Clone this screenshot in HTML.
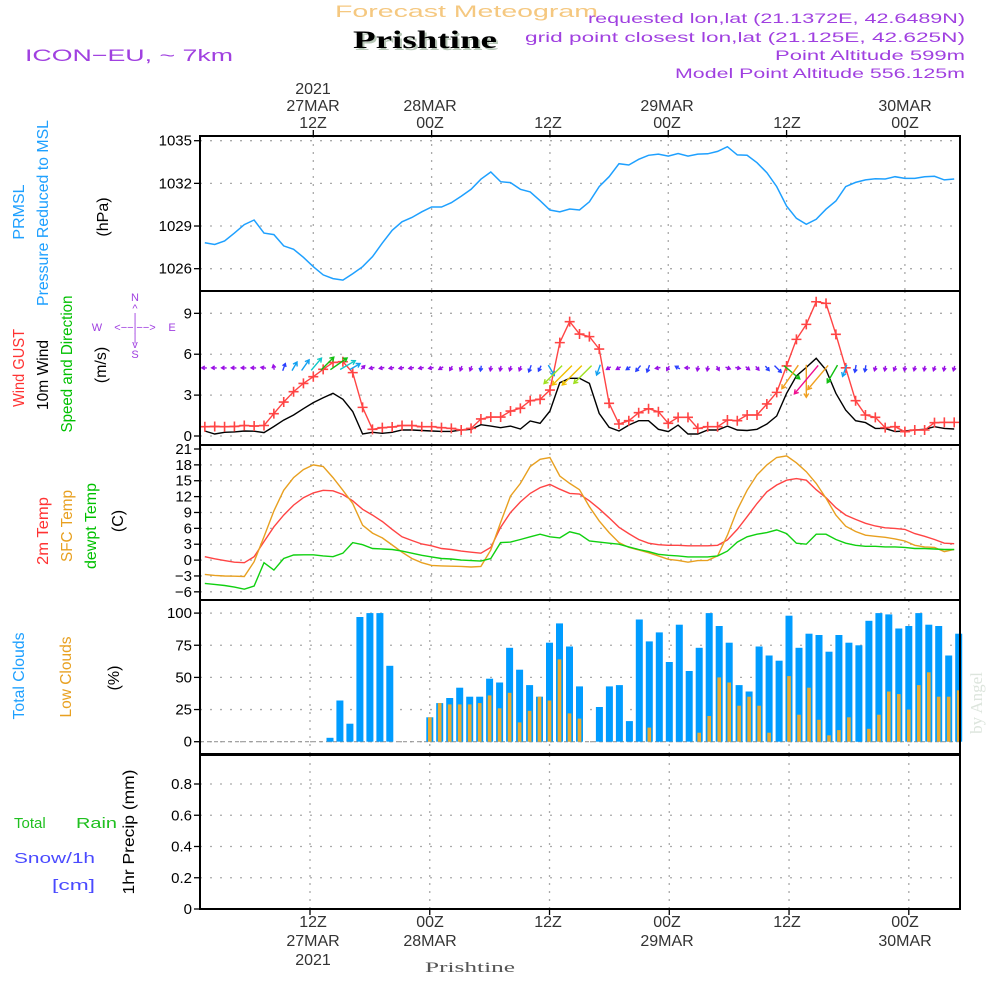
<!DOCTYPE html>
<html><head><meta charset="utf-8"><title>Forecast Meteogram Prishtine</title>
<style>
html,body{margin:0;padding:0;background:#fff;}
svg{display:block;font-family:"Liberation Sans",sans-serif;}
</style></head>
<body>
<svg id="chart" width="1000" height="1000" viewBox="0 0 1000 1000">
<rect x="0" y="0" width="1000" height="1000" fill="#fff"/>
<text x="335" y="17" font-size="17" fill="#f5c880" textLength="263" lengthAdjust="spacingAndGlyphs">Forecast Meteogram</text>
<text x="355" y="50" font-family="Liberation Serif" font-weight="bold" font-size="25" fill="#b8c8b8" textLength="144" lengthAdjust="spacingAndGlyphs">Prishtine</text>
<text x="353" y="48" font-family="Liberation Serif" font-weight="bold" font-size="25" fill="#000" textLength="144" lengthAdjust="spacingAndGlyphs">Prishtine</text>
<text x="25" y="61" font-size="17" fill="#a040e0" textLength="208" lengthAdjust="spacingAndGlyphs">ICON−EU, ~ 7km</text>
<g font-size="14" fill="#a040e0" text-anchor="end">
<text x="965" y="23" textLength="377" lengthAdjust="spacingAndGlyphs">requested lon,lat (21.1372E, 42.6489N)</text>
<text x="965" y="42" textLength="440" lengthAdjust="spacingAndGlyphs">grid point closest lon,lat (21.125E, 42.625N)</text>
<text x="965" y="60" textLength="190" lengthAdjust="spacingAndGlyphs">Point Altitude 599m</text>
<text x="965" y="78" textLength="290" lengthAdjust="spacingAndGlyphs">Model Point Altitude 556.125m</text>
</g>
<g font-size="16" fill="#333" text-anchor="middle">
<text x="313" y="94">2021</text>
<text x="313" y="111">27MAR</text>
<text x="313" y="128">12Z</text>
<text x="430" y="111">28MAR</text>
<text x="430" y="128">00Z</text>
<text x="548" y="128">12Z</text>
<text x="667" y="111">29MAR</text>
<text x="667" y="128">00Z</text>
<text x="787" y="128">12Z</text>
<text x="905" y="111">30MAR</text>
<text x="905" y="128">00Z</text>
</g>
<g font-size="16" fill="#333" text-anchor="middle">
<text x="313" y="927">12Z</text>
<text x="313" y="946">27MAR</text>
<text x="313" y="965">2021</text>
<text x="430" y="927">00Z</text>
<text x="430" y="946">28MAR</text>
<text x="548" y="927">12Z</text>
<text x="667" y="927">00Z</text>
<text x="667" y="946">29MAR</text>
<text x="787" y="927">12Z</text>
<text x="905" y="927">00Z</text>
<text x="905" y="946">30MAR</text>
</g>
<text x="425" y="972" font-family="Liberation Serif" font-size="15" fill="#555" textLength="90" lengthAdjust="spacingAndGlyphs">Prishtine</text>
<g font-size="16" text-anchor="middle">
<text transform="translate(24,212) rotate(-90)" fill="#1ea0ff">PRMSL</text>
<text transform="translate(48,213) rotate(-90)" fill="#1ea0ff" textLength="186" lengthAdjust="spacingAndGlyphs">Pressure Reduced to MSL</text>
<text transform="translate(108,217) rotate(-90)" fill="#000">(hPa)</text>
<text transform="translate(24,368) rotate(-90)" fill="#ff3333" textLength="78" lengthAdjust="spacingAndGlyphs">Wind GUST</text>
<text transform="translate(48,375) rotate(-90)" fill="#000" textLength="70" lengthAdjust="spacingAndGlyphs">10m Wind</text>
<text transform="translate(72,364) rotate(-90)" fill="#00c000" textLength="137" lengthAdjust="spacingAndGlyphs">Speed and Direction</text>
<text transform="translate(106,365) rotate(-90)" fill="#000">(m/s)</text>
<text transform="translate(48,531) rotate(-90)" fill="#ff3333" textLength="68" lengthAdjust="spacingAndGlyphs">2m Temp</text>
<text transform="translate(72,526) rotate(-90)" fill="#e8a020" textLength="72" lengthAdjust="spacingAndGlyphs">SFC Temp</text>
<text transform="translate(96,526) rotate(-90)" fill="#00c000" textLength="86" lengthAdjust="spacingAndGlyphs">dewpt Temp</text>
<text transform="translate(123,521) rotate(-90)" fill="#000">(C)</text>
<text transform="translate(24,676) rotate(-90)" fill="#1ea0ff" textLength="87" lengthAdjust="spacingAndGlyphs">Total Clouds</text>
<text transform="translate(71,677) rotate(-90)" fill="#e8a020" textLength="81" lengthAdjust="spacingAndGlyphs">Low Clouds</text>
<text transform="translate(119,678) rotate(-90)" fill="#000">(%)</text>
<text transform="translate(134,832) rotate(-90)" fill="#000" textLength="125" lengthAdjust="spacingAndGlyphs">1hr Precip (mm)</text>
</g>
<g font-size="15">
<text x="14" y="828" fill="#20c020">Total</text>
<text x="76" y="828" fill="#20c020" textLength="41" lengthAdjust="spacingAndGlyphs">Rain</text>
<text x="14" y="863" fill="#4a4aff" textLength="81" lengthAdjust="spacingAndGlyphs">Snow/1h</text>
<text x="52" y="890" fill="#4a4aff" textLength="43" lengthAdjust="spacingAndGlyphs">[cm]</text>
</g>
<g font-size="11" fill="#a040e0" text-anchor="middle">
<text x="135" y="301">N</text>
<text x="135" y="312">^</text>
<text x="135" y="321">|</text>
<text x="97" y="331">W</text>
<text x="135" y="331">&lt;−−|−−&gt;</text>
<text x="172" y="331">E</text>
<text x="135" y="341">|</text>
<text x="135" y="348">v</text>
<text x="135" y="358">S</text>
</g>
<text transform="translate(982,703) rotate(-90)" font-family="Liberation Serif" font-size="17" fill="#dde5dd" text-anchor="middle">by Angel</text>
<g id="plot"></g>
</svg>
<script>
const pressHours = [1,2,3,4,5,6,7,8,9,10,11,12,13,14,15,16,17,18,19,20,21,22,23,24,25,26,27,28,29,30,31,32,33,34,35,36,37,38,39,40,41,42,43,44,45,46,47,48,49,50,51,52,53,54,55,56,57,58,59,60,61,62,63,64,65,66,67,68,69,70,71,72,73,74,75,76,77];
const pressure = [1027.83,1027.7,1027.95,1028.5,1029.1,1029.42,1028.5,1028.4,1027.6,1027.36,1026.8,1026.14,1025.56,1025.3,1025.2,1025.65,1026.14,1026.84,1027.8,1028.7,1029.3,1029.6,1030.0,1030.34,1030.34,1030.64,1031.1,1031.58,1032.29,1032.8,1032.12,1032.05,1031.58,1031.4,1030.78,1030.13,1029.99,1030.2,1030.13,1030.7,1031.77,1032.47,1033.38,1033.29,1033.69,1033.97,1034.06,1033.92,1034.1,1033.92,1034.06,1034.08,1034.25,1034.58,1034.0,1033.97,1033.45,1032.75,1031.77,1030.4,1029.54,1029.12,1029.47,1030.18,1030.76,1031.77,1032.07,1032.24,1032.33,1032.31,1032.47,1032.35,1032.35,1032.47,1032.5,1032.24,1032.31];
const windGust = [0.68,0.7,0.68,0.7,0.77,0.73,0.77,1.64,2.49,3.25,3.86,4.35,4.89,5.4,5.45,4.65,2.1,0.49,0.61,0.66,0.77,0.77,0.68,0.68,0.61,0.56,0.44,0.56,1.25,1.39,1.39,1.83,2.03,2.59,2.69,3.37,6.85,8.39,7.48,7.29,6.38,2.4,0.88,1.12,1.71,2.0,1.78,0.93,1.37,1.37,0.56,0.68,0.68,1.17,1.12,1.54,1.54,2.35,3.2,5.14,7.09,8.19,9.85,9.73,7.46,5.0,2.59,1.54,1.37,0.61,0.68,0.32,0.44,0.44,0.98,1.0,1.0];
const wind10m = [0.37,0.15,0.27,0.3,0.37,0.35,0.25,0.7,1.17,1.54,2.0,2.45,2.81,3.13,2.69,1.8,0.15,0.27,0.2,0.27,0.44,0.44,0.4,0.37,0.34,0.34,0.44,0.49,0.83,0.73,0.61,0.73,0.51,1.1,0.93,1.83,3.91,4.23,4.23,3.86,1.66,0.64,0.37,0.8,1.12,1.12,0.49,0.32,0.8,0.15,0.15,0.44,0.44,0.73,0.44,0.4,0.49,0.88,1.47,3.13,4.4,5.03,5.7,4.85,3.13,1.9,1.12,0.98,0.56,0.56,0.32,0.37,0.44,0.49,0.68,0.56,0.51];
const windDir = [270,270,270,270,270,270,280,350,20,30,35,40,45,55,60,60,45,260,260,260,260,260,260,260,240,210,200,200,190,190,190,195,200,200,205,150,225,225,225,225,200,240,240,235,220,200,260,210,300,270,190,190,150,110,100,130,140,140,135,130,215,180,220,220,210,200,190,190,195,190,200,190,195,190,200,190,195];
const temp2m = [0.64,0.25,-0.1,-0.4,-0.5,0.64,3.5,6.3,8.5,10.4,11.8,12.7,13.2,13.1,12.4,11.2,9.6,8.5,7.3,5.8,4.4,3.7,3.05,2.7,2.2,2.0,1.7,1.5,1.3,2.4,6.2,9.0,11.0,12.6,13.7,14.3,13.4,12.6,12.5,11.2,9.7,8.0,6.2,5.0,3.9,3.2,2.9,2.8,2.8,2.7,2.7,2.7,2.8,3.8,5.8,8.2,10.7,12.9,14.2,15.1,15.4,15.1,13.3,11.8,9.9,8.5,7.7,6.95,6.45,6.1,6.0,5.8,5.0,4.5,3.9,3.2,3.1];
const tempSfc = [-2.7,-2.9,-3.0,-3.05,-3.1,-0.3,4.4,9.3,13.2,15.6,17.1,18.0,17.7,15.6,13.2,10.7,6.6,5.1,4.2,2.85,1.5,0.3,-0.5,-1.0,-1.1,-1.15,-1.2,-1.3,-1.2,1.9,7.1,12.1,14.5,17.7,19.05,19.4,15.9,14.5,13.3,10.1,7.4,5.2,3.3,2.4,1.9,1.4,0.8,0.15,-0.05,-0.4,-0.1,-0.05,0.8,4.7,9.5,13.2,16.1,18.0,19.4,19.7,18.4,16.7,14.5,11.7,8.5,6.4,5.4,4.7,4.5,4.3,4.0,3.6,2.8,2.5,2.4,1.6,2.0];
const dewpoint = [-4.4,-4.6,-4.8,-5.1,-5.5,-4.9,-0.5,-1.9,0.3,0.96,1.0,1.0,0.8,0.64,1.3,3.3,2.9,2.2,2.1,2.0,1.7,1.3,0.9,0.6,0.3,0.2,0.0,-0.1,-0.2,0.3,3.3,3.4,3.9,4.4,4.9,4.4,4.2,5.35,4.9,3.6,3.4,3.2,3.0,2.5,2.0,1.6,1.1,0.9,0.8,0.6,0.6,0.6,0.8,1.7,3.4,4.4,4.9,5.2,5.7,5.0,3.2,3.0,4.9,4.9,3.9,3.2,2.8,2.6,2.6,2.5,2.5,2.4,2.2,2.2,2.1,2.0,2.0];
const cloudHours = [2,3,4,5,6,7,8,9,10,11,12,13,14,15,16,17,18,19,20,21,22,23,24,25,26,27,28,29,30,31,32,33,34,35,36,37,38,39,40,41,42,43,44,45,46,47,48,49,50,51,52,53,54,55,56,57,58,59,60,61,62,63,64,65,66,67,68,69,70,71,72,73,74,75,76,77];
const totalClouds = [0,0,0,0,0,0,0,0,0,0,0,0,3,32,14,97,100,100,59,0,0,0,19,30,34,42,35,35,49,46,73,56,44,35,77,92,74,43,0,27,43,44,16,95,78,85,62,91,55,73,100,90,77,44,39,74,67,63,98,73,84,83,70,83,77,75,94,100,99,88,90,100,91,90,67,84];
const lowClouds = [0,0,0,0,0,0,0,0,0,0,0,0,0,0,0,0,0,0,0,0,0,0,19,30,29,29,29,30,36,26,38,15,24,35,32,64,22,18,0,0,0,0,0,0,11,0,0,0,0,7,20,50,46,28,35,28,7,0,51,21,42,17,5,9,19,0,10,21,39,37,25,44,54,35,35,40];
const precip = [0,0,0,0,0,0,0,0,0,0,0,0,0,0,0,0,0,0,0,0,0,0,0,0,0,0,0,0,0,0,0,0,0,0,0,0,0,0,0,0,0,0,0,0,0,0,0,0,0,0,0,0,0,0,0,0,0,0,0,0,0,0,0,0,0,0,0,0,0,0,0,0,0,0,0,0,0];
const pressTicks = [1026,1029,1032,1035];
const windTicks = [0,3,6,9];
const tempTicks = [-6,-3,0,3,6,9,12,15,18,21];
const cloudTicks = [0,25,50,75,100];
const precipTicks = [0,0.2,0.4,0.6,0.8];
const gridHours = [12,24,36,48,60,72];

const X0 = 200, X1 = 960;
function xP(h){ return 313.3 + (h-12)*9.86; }
function xC(h){ return 310 + (h-12)*9.98; }
function yP(p){ return 140.7 + (1035-p)*14.22; }
function yW(v){ return 436 - v*13.63; }
function yT(t){ return 449 + (21-t)*5.29; }
function yC(c){ return 741.7 - c*1.286; }
function yR(r){ return 909 - r*156.25; }

const NS = 'http://www.w3.org/2000/svg';
const plot = document.getElementById('plot');
function mk(tag, attrs, parent){
  const e = document.createElementNS(NS, tag);
  for (const k in attrs) e.setAttribute(k, attrs[k]);
  (parent||plot).appendChild(e);
  return e;
}

const panels = [
  {top:136, bot:291, yf:yP, ticks:pressTicks, xf:xP, name:'pressure-panel'},
  {top:291, bot:445, yf:yW, ticks:windTicks, xf:xP, name:'wind-panel'},
  {top:445, bot:600, yf:yT, ticks:tempTicks, xf:xP, name:'temperature-panel'},
  {top:600, bot:754, yf:yC, ticks:cloudTicks, xf:xC, name:'cloud-panel'},
  {top:755, bot:909, yf:yR, ticks:precipTicks, xf:xC, name:'precip-panel'}
];
panels.forEach(function(p){
  const g = mk('g', {});
  
  
  p.ticks.forEach(function(t){
    const y = p.yf(t);
    const gl = mk('line', {x1:X0, x2:X1, y1:y, y2:y, stroke:'#aaa', 'stroke-width':1.3, 'stroke-dasharray':'2 8'}, g);
    
    
    const tk = mk('line', {x1:X0-6, x2:X0, y1:y, y2:y, stroke:'#000', 'stroke-width':1.3}, g);
    
    
    const lb = mk('text', {x:192, y:y+5, 'font-size':15, 'text-anchor':'end', fill:'#000'}, g);
    lb.textContent = String(t).replace('-', '−');
    
    
  });
  gridHours.forEach(function(h){
    const x = p.xf(h);
    const vl = mk('line', {x1:x, x2:x, y1:p.top, y2:p.bot, stroke:'#aaa', 'stroke-width':1.3, 'stroke-dasharray':'2 6'}, g);
    
    
  });
});

(function(){
  let d = '';
  pressHours.forEach(function(h,i){ d += (i?'L':'M') + xP(h).toFixed(1) + ' ' + yP(pressure[i]).toFixed(1); });
  const l = mk('path', {d:d, fill:'none', stroke:'#1ea0ff', 'stroke-width':1.5});
  
  
})();

(function(){
  let d = '';
  pressHours.forEach(function(h,i){ d += (i?'L':'M') + xP(h).toFixed(1) + ' ' + yW(wind10m[i]).toFixed(1); });
  const l = mk('path', {d:d, fill:'none', stroke:'#000', 'stroke-width':1.4});
  
  
})();

(function(){
  let d = '';
  pressHours.forEach(function(h,i){ d += (i?'L':'M') + xP(h).toFixed(1) + ' ' + yW(windGust[i]).toFixed(1); });
  const l = mk('path', {d:d, fill:'none', stroke:'#ff4444', 'stroke-width':1.4});
  
  
  pressHours.forEach(function(h,i){
    const x = xP(h), y = yW(windGust[i]);
    const m = mk('path', {d:'M'+(x-5)+' '+y+'L'+(x+5)+' '+y+'M'+x+' '+(y-5)+'L'+x+' '+(y+5), stroke:'#ff4444', 'stroke-width':1.6});
    
    
  });
})();

function speedColor(s){
  if (s < 0.8) return '#9a10e6';
  if (s < 1.5) return '#2a40ff';
  if (s < 2.2) return '#12a0f0';
  if (s < 2.8) return '#10c8c8';
  if (s < 3.5) return '#10c010';
  if (s < 3.95) return '#a0e020';
  if (s < 4.3) return '#f0c000';
  if (s < 5.3) return '#f0a020';
  return '#f01090';
}
pressHours.forEach(function(h,i){
  const s = wind10m[i];
  const L = Math.max(5, s*6.5);
  const a = windDir[i]*Math.PI/180;
  const x0 = xP(h) - Math.sin(a)*Math.min(L,8)*0.4, y0 = yW(5) + Math.cos(a)*Math.min(L,8)*0.4;
  const x1 = x0 + Math.sin(a)*L, y1 = y0 - Math.cos(a)*L;
  const hl = s < 1.5 ? 3.5 : 4.5, ha = 0.55;
  const bx = -Math.sin(a), by = Math.cos(a);
  const c = Math.cos(ha), sn = Math.sin(ha);
  const p1x = x1 + hl*(bx*c - by*sn), p1y = y1 + hl*(bx*sn + by*c);
  const p2x = x1 + hl*(bx*c + by*sn), p2y = y1 + hl*(-bx*sn + by*c);
  const d = 'M'+x0.toFixed(1)+' '+y0.toFixed(1)+'L'+x1.toFixed(1)+' '+y1.toFixed(1)+
            'M'+p1x.toFixed(1)+' '+p1y.toFixed(1)+'L'+x1.toFixed(1)+' '+y1.toFixed(1)+'L'+p2x.toFixed(1)+' '+p2y.toFixed(1);
  const ar = mk('path', {d:d, fill:'none', stroke:speedColor(s), 'stroke-width':1.4});
  
  
});

[[temp2m,'#ff4444','temp-2m-line'],[tempSfc,'#e8a020','sfc-temp-line'],[dewpoint,'#10d010','dewpoint-line']].forEach(function(s){
  let d = '';
  pressHours.forEach(function(h,i){ d += (i?'L':'M') + xP(h).toFixed(1) + ' ' + yT(s[0][i]).toFixed(1); });
  const l = mk('path', {d:d, fill:'none', stroke:s[1], 'stroke-width':1.4});
  
  
});

(function(){
  const base = mk('line', {x1:X0, x2:X1, y1:yC(0), y2:yC(0), stroke:'#999', 'stroke-width':1.2, 'stroke-dasharray':'4 3'});
  
  
  cloudHours.forEach(function(h,i){
    const x = xC(h);
    if (totalClouds[i] > 0){
      const b = mk('rect', {x:(x-3.5).toFixed(1), y:yC(totalClouds[i]).toFixed(1), width:7, height:(yC(0)-yC(totalClouds[i])).toFixed(1), fill:'#009cff'});
      
      
    }
    if (lowClouds[i] > 0){
      const b2 = mk('rect', {x:(x-1.8).toFixed(1), y:yC(lowClouds[i]).toFixed(1), width:3.6, height:(yC(0)-yC(lowClouds[i])).toFixed(1), fill:'#e8aa30'});
      
      
    }
  });
})();

(function(){
  let d = '';
  pressHours.forEach(function(h,i){ d += (i?'L':'M') + xC(h).toFixed(1) + ' ' + yR(precip[i]).toFixed(1); });
  const l = mk('path', {d:d, fill:'none', stroke:'#222', 'stroke-width':1.5, 'stroke-dasharray':'5 2'});
  
  
})();

panels.forEach(function(p){
  const r = mk('rect', {x:X0, y:p.top, width:X1-X0, height:p.bot-p.top, fill:'none', stroke:'#000', 'stroke-width':2});
  
  
});
gridHours.forEach(function(h){
  const t = mk('line', {x1:xP(h), x2:xP(h), y1:130, y2:136, stroke:'#000', 'stroke-width':1.3});
  
  
  const b = mk('line', {x1:xC(h), x2:xC(h), y1:909, y2:915, stroke:'#000', 'stroke-width':1.3});
  
  
});
</script>
</body></html>
